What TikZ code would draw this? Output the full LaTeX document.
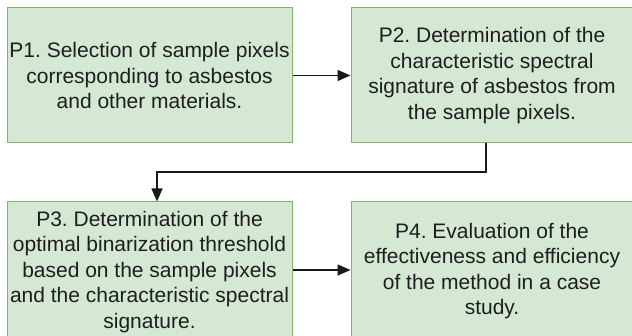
\documentclass[tikz,border=0pt]{standalone}
\usepackage{fontspec}
\setmainfont{Liberation Sans}
\usetikzlibrary{arrows.meta}
\definecolor{boxfill}{HTML}{D5E8D4}
\definecolor{boxline}{HTML}{82B366}
\definecolor{txt}{HTML}{1E1E1E}
\frenchspacing
\begin{document}
\begin{tikzpicture}[x=1pt,y=-1pt,
  stepbox/.style={draw=boxline,fill=boxfill,line width=1pt,align=center,
    text=txt,inner sep=0pt,
    font=\fontsize{21}{25.5}\selectfont},
  conn/.style={draw=black!90,line width=1.4pt,-{Triangle[length=13pt,width=11pt]}}]
\useasboundingbox (0,0) rectangle (632,336);
\clip (0,0) rectangle (632,336);
\fill[white] (0,0) rectangle (632,336);
\node[stepbox,minimum width=285pt,minimum height=135pt] (p1) at (149.5,75.5)
  {P1. Selection of sample pixels\\corresponding to asbestos\\and other materials.};
\node[stepbox,minimum width=282pt,minimum height=135pt] (p2) at (492,75.5)
  {P2. Determination of the\\characteristic spectral\\signature of asbestos from\\the sample pixels.};
\node[stepbox,minimum width=285pt,minimum height=140pt] (p3) at (149.5,272)
  {P3. Determination of the\\optimal binarization threshold\\based on the sample pixels\\and the characteristic spectral\\signature.};
\node[stepbox,minimum width=282pt,minimum height=138pt] (p4) at (492,271)
  {P4. Evaluation of the\\effectiveness and efficiency\\of the method in a case\\study.};
\coordinate (e1) at (486,172);
\coordinate (e2) at (157,172);
\draw[conn] (p1.east) -- (p2.west);
\draw[conn] (p2.south -| e1) -- (e1) -- (e2) -- (p3.north -| e2);
\draw[conn] (p3.east |- 0,270) -- (p4.west |- 0,270);
\end{tikzpicture}
\end{document}
